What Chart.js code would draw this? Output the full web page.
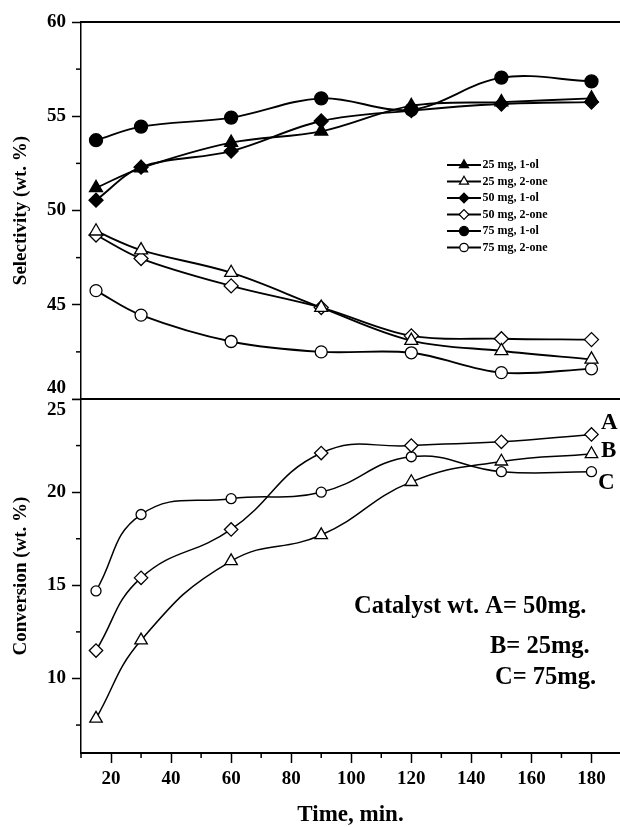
<!DOCTYPE html>
<html>
<head>
<meta charset="utf-8">
<script src="https://cdn.jsdelivr.net/npm/chart.js@4.4.1/dist/chart.umd.min.js"></script>
<style>
  html, body { margin: 0; padding: 0; background: #fff; overflow: hidden; }
  #wrap { position: relative; width: 620px; height: 827px; }
  #top { position: absolute; left: 0; top: 0; }
  #bottom { position: absolute; left: 0; top: 398px; }
</style>
</head>
<body>
<div id="wrap">
  <canvas id="top" width="620" height="400"></canvas>
  <canvas id="bottom" width="620" height="429"></canvas>
</div>
<script>
// reaction time (min)
const times = [15, 30, 60, 90, 120, 150, 180];

// selectivity (wt. %)
const sel25ol  = [51.2, 52.25, 53.6, 54.2, 55.55, 55.75, 55.95];
const sel25one = [48.9, 47.9, 46.7, 44.85, 43.1, 42.55, 42.1];
const sel50ol  = [50.55, 52.3, 53.15, 54.75, 55.3, 55.65, 55.75];
const sel50one = [48.7, 47.45, 46.0, 44.85, 43.35, 43.2, 43.15];
const sel75ol  = [53.73, 54.45, 54.93, 55.95, 55.35, 57.05, 56.85];
const sel75one = [45.75, 44.45, 43.05, 42.5, 42.45, 41.4, 41.6];
const selLabels = ['25 mg, 1-ol', '25 mg, 2-one', '50 mg, 1-ol', '50 mg, 2-one', '75 mg, 1-ol', '75 mg, 2-one'];

// conversion (wt. %)
const convA = [11.5, 15.4, 18.0, 22.1, 22.5, 22.7, 23.1];
const convB = [7.85, 12.05, 16.3, 17.7, 20.55, 21.65, 22.05];
const convC = [14.7, 18.8, 19.65, 20.0, 21.9, 21.1, 21.1];
const convLabels = ['A', 'B', 'C'];

const xTickLabels = [20, 40, 60, 80, 100, 120, 140, 160, 180];
const noteLines = ['Catalyst wt. A= 50mg.', 'B= 25mg.', 'C= 75mg.'];

const SERIF = "'Liberation Serif', 'Times New Roman', serif";
Chart.defaults.font.family = SERIF;
Chart.defaults.color = '#000';

function series(label, data, style, filled, radius, width, tension) {
  return {
    label: label,
    data: times.map((t, i) => ({ x: t, y: data[i] })),
    pointStyle: style,
    pointRadius: radius,
    pointHoverRadius: radius,
    pointBackgroundColor: filled ? '#000' : '#fff',
    pointBorderColor: '#000',
    pointBorderWidth: 1.3,
    borderColor: '#000',
    borderWidth: width,
    tension: tension,
    fill: false
  };
}

function isMult(v, step) {
  return Math.abs(v / step - Math.round(v / step)) < 1e-6;
}

// short minor ticks drawn at the scales' own tick positions
function minorTicks(cfg) {
  return {
    id: 'minorTicks',
    afterDraw(chart) {
      const ctx = chart.ctx;
      const area = chart.chartArea;
      ctx.save();
      ctx.strokeStyle = '#000';
      ctx.lineWidth = 1.5;
      Object.keys(cfg).forEach(id => {
        const s = chart.scales[id];
        s.ticks.forEach(t => {
          if (!isMult(t.value, cfg[id].minor) || isMult(t.value, cfg[id].major)) return;
          const p = s.getPixelForValue(t.value);
          ctx.beginPath();
          if (s.isHorizontal()) {
            ctx.moveTo(p, area.bottom);
            ctx.lineTo(p, area.bottom + 5);
          } else {
            ctx.moveTo(area.left, p);
            ctx.lineTo(area.left - 5, p);
          }
          ctx.stroke();
        });
      });
      ctx.restore();
    }
  };
}

const selLegend = {
  id: 'selLegend',
  afterDatasetsDraw(chart) {
    const ctx = chart.ctx;
    ctx.save();
    chart.data.datasets.forEach((ds, i) => {
      const y = 165 + i * 16.5;
      ctx.strokeStyle = '#000';
      ctx.lineWidth = 1.8;
      ctx.beginPath();
      ctx.moveTo(447, y);
      ctx.lineTo(481, y);
      ctx.stroke();
      ctx.fillStyle = ds.pointBackgroundColor;
      ctx.lineWidth = 1.2;
      Chart.helpers.drawPoint(ctx, { pointStyle: ds.pointStyle, radius: ds.pointRadius * 0.7, rotation: 0, borderWidth: 1.2 }, 464, y);
      ctx.fillStyle = '#000';
      ctx.font = 'bold 12px ' + SERIF;
      ctx.textAlign = 'left';
      ctx.textBaseline = 'middle';
      ctx.fillText(ds.label, 482.5, y);
    });
    ctx.restore();
  }
};

const convNotes = {
  id: 'convNotes',
  afterDatasetsDraw(chart) {
    const ctx = chart.ctx;
    const xs = chart.scales.x, ys = chart.scales.y;
    const offsets = [[9.5, -11], [9.5, -3], [6.5, 11.7]];
    ctx.save();
    ctx.fillStyle = '#000';
    ctx.textAlign = 'left';
    ctx.textBaseline = 'middle';
    ctx.font = 'bold 23px ' + SERIF;
    chart.data.datasets.forEach((ds, i) => {
      const last = ds.data[ds.data.length - 1];
      ctx.fillText(ds.label, xs.getPixelForValue(last.x) + offsets[i][0], ys.getPixelForValue(last.y) + offsets[i][1]);
    });
    ctx.font = 'bold 24.5px ' + SERIF;
    const pos = [[354, 209], [490, 249], [495, 280]];
    noteLines.forEach((t, i) => ctx.fillText(t, pos[i][0], pos[i][1]));
    ctx.restore();
  }
};

const tickFont = { family: SERIF, size: 19, weight: 'bold' };
const titleFont = { family: SERIF, size: 19, weight: 'bold' };

function borderAxis(position, width) {
  return {
    type: 'linear', position: position, min: 10, max: 189.5,
    ticks: { display: false },
    grid: { drawOnChartArea: false, drawTicks: false },
    border: { color: '#000', width: width },
    afterFit: s => { s.height = 0; }
  };
}

function yAxis(min, max, title, edgeLabel) {
  return {
    type: 'linear', position: 'left', min: min, max: max,
    afterFit: s => { s.width = 81; s.paddingTop = 0; s.paddingBottom = 0; },
    border: { color: '#000', width: 1.5 },
    grid: {
      drawOnChartArea: false, tickLength: 9, tickWidth: 1.5,
      tickColor: c => (c.tick && isMult(c.tick.value, 5)) ? '#000' : 'rgba(0,0,0,0)'
    },
    ticks: {
      stepSize: 2.5, autoSkip: false, includeBounds: false, padding: 6, font: tickFont,
      callback: v => {
        if (!isMult(v, 5)) return '';
        if (v === edgeLabel.value) return edgeLabel.lines;
        return String(v);
      }
    },
    title: { display: true, text: title, font: titleFont, padding: { top: 10, bottom: 0 } }
  };
}

const selChart = new Chart(document.getElementById('top').getContext('2d'), {
  type: 'line',
  data: {
    datasets: [
      series(selLabels[0], sel25ol, 'triangle', true, 7.5, 1.9, 0.35),
      series(selLabels[1], sel25one, 'triangle', false, 7.5, 1.9, 0.35),
      series(selLabels[2], sel50ol, 'rectRot', true, 7, 1.9, 0.35),
      series(selLabels[3], sel50one, 'rectRot', false, 7, 1.9, 0.35),
      series(selLabels[4], sel75ol, 'circle', true, 6.5, 1.9, 0.35),
      series(selLabels[5], sel75one, 'circle', false, 6, 1.9, 0.35)
    ]
  },
  options: {
    responsive: false,
    animation: false,
    devicePixelRatio: 1,
    layout: { autoPadding: false, padding: { top: 22, right: 0, bottom: 1, left: 0 } },
    plugins: { legend: { display: false }, tooltip: { enabled: false } },
    scales: {
      x: borderAxis('bottom', 2),
      x2: borderAxis('top', 2),
      y: yAxis(40, 60, 'Selectivity (wt. %)', { value: 40, lines: ['40', ''] })
    }
  },
  plugins: [selLegend, minorTicks({ y: { minor: 2.5, major: 5 } })]
});

const convChart = new Chart(document.getElementById('bottom').getContext('2d'), {
  type: 'line',
  data: {
    datasets: [
      series(convLabels[0], convA, 'rectRot', false, 6.7, 1.5, 0.45),
      series(convLabels[1], convB, 'triangle', false, 7.2, 1.5, 0.45),
      series(convLabels[2], convC, 'circle', false, 5, 1.5, 0.45)
    ]
  },
  options: {
    responsive: false,
    animation: false,
    devicePixelRatio: 1,
    layout: { autoPadding: false, padding: { top: 1, right: 0, bottom: 0, left: 0 } },
    plugins: { legend: { display: false }, tooltip: { enabled: false } },
    scales: {
      x: {
        type: 'linear', position: 'bottom', min: 10, max: 189.5,
        afterFit: s => { s.height = 74; s.paddingLeft = 0; s.paddingRight = 0; },
        border: { color: '#000', width: 2 },
        grid: {
          drawOnChartArea: false, tickLength: 10, tickWidth: 1.5,
          tickColor: c => (c.tick && isMult(c.tick.value, 20)) ? '#000' : 'rgba(0,0,0,0)'
        },
        ticks: {
          stepSize: 10, autoSkip: false, includeBounds: false, maxRotation: 0, padding: 5, font: tickFont,
          callback: v => xTickLabels.includes(v) ? String(v) : ''
        },
        title: {
          display: true, text: 'Time, min.',
          font: { family: SERIF, size: 23, weight: 'bold', lineHeight: 1 },
          padding: { top: 0, bottom: 0 }
        }
      },
      x2: borderAxis('top', 2),
      y: yAxis(6, 25, 'Conversion (wt. %)', { value: 25, lines: ['', '25'] })
    }
  },
  plugins: [convNotes, minorTicks({ x: { minor: 10, major: 20 }, y: { minor: 2.5, major: 5 } })]
});
</script>
</body>
</html>
